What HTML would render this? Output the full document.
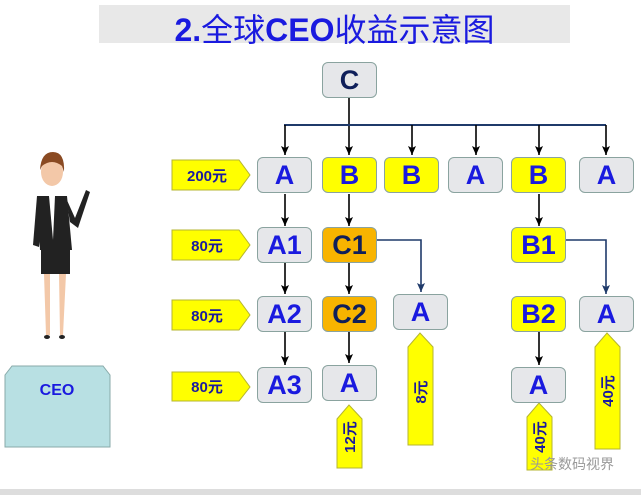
<!DOCTYPE html>
<html><head><meta charset="utf-8"><style>
body{margin:0;width:641px;height:495px;background:#fff;position:relative;overflow:hidden;font-family:"Liberation Sans","Noto Sans CJK SC",sans-serif}
.n{position:absolute;box-sizing:border-box;border:1.5px solid #8aa39f;border-radius:6px;background:#e6e7ea;color:#1a1adf;font-weight:bold;font-size:27px;display:flex;align-items:center;justify-content:center;width:55px;height:36px}
.y{background:#ffff00}.o{background:#f8b400;color:#0f1f5a}
</style></head><body>
<div style="position:absolute;left:99px;top:5px;width:471px;height:38px;background:#e8e8e8"></div>
<div style="position:absolute;left:99px;top:5px;width:471px;text-align:center;font-size:32px;font-weight:bold;color:#1a1adf;font-family:'Liberation Sans','Noto Sans CJK SC',sans-serif">2.<span style="font-weight:normal">全球</span>CEO<span style="font-weight:normal">收益示意图</span></div>
<div style="position:absolute;left:0;top:489px;width:641px;height:6px;background:#ddd"></div>

<svg style="position:absolute;left:0;top:0" width="641" height="495">
<defs><marker id="a" markerWidth="10" markerHeight="10" refX="9" refY="5" orient="auto" markerUnits="userSpaceOnUse"><path d="M0,1 L9,5 L0,9 L2,5Z" fill="#000"/></marker>
<marker id="b" markerWidth="10" markerHeight="10" refX="9" refY="5" orient="auto" markerUnits="userSpaceOnUse"><path d="M0,1 L9,5 L0,9 L2,5Z" fill="#1f3a6a"/></marker></defs>
<g stroke="#000" stroke-width="1.6" fill="none">
<line x1="349" y1="97" x2="349" y2="155" marker-end="url(#a)"/>
<line x1="284" y1="125" x2="606" y2="125" stroke="#1f3a6a" stroke-width="2"/>
<line x1="285" y1="125" x2="285" y2="155" marker-end="url(#a)"/>
<line x1="412" y1="125" x2="412" y2="155" marker-end="url(#a)"/>
<line x1="476" y1="125" x2="476" y2="155" marker-end="url(#a)"/>
<line x1="539" y1="125" x2="539" y2="155" marker-end="url(#a)"/>
<line x1="606" y1="125" x2="606" y2="155" marker-end="url(#a)"/>
<line x1="285" y1="194" x2="285" y2="226" marker-end="url(#a)"/>
<line x1="349" y1="194" x2="349" y2="226" marker-end="url(#a)"/>
<line x1="539" y1="194" x2="539" y2="226" marker-end="url(#a)"/>
<line x1="285" y1="263" x2="285" y2="294" marker-end="url(#a)"/>
<line x1="349" y1="263" x2="349" y2="294" marker-end="url(#a)"/>
<line x1="285" y1="331" x2="285" y2="365" marker-end="url(#a)"/>
<line x1="349" y1="331" x2="349" y2="363" marker-end="url(#a)"/>
<line x1="539" y1="331" x2="539" y2="365" marker-end="url(#a)"/>
<polyline points="377,240 421,240 421,292" stroke="#1f3a6a" marker-end="url(#b)"/>
<polyline points="566,240 606,240 606,294" stroke="#1f3a6a" marker-end="url(#b)"/>
</g>
<g fill="#ffff00" stroke="#b5b530" stroke-width="1">
<polygon points="172,160 239,160 250,175 239,190 172,190"/>
<polygon points="172,230 239,230 250,245 239,260 172,260"/>
<polygon points="172,300 239,300 250,315 239,330 172,330"/>
<polygon points="172,372 239,372 250,387 239,401 172,401"/>
<polygon points="337,419 349,405 362,419 362,468 337,468"/>
<polygon points="408,347 420,333 433,347 433,445 408,445"/>
<polygon points="527,417 539,403 552,417 552,470 527,470"/>
<polygon points="595,347 607,333 620,347 620,449 595,449"/>
</g>
<polygon points="5,375 12,366 103,366 110,375 110,447 5,447" fill="#b8e0e3" stroke="#8aa"/>
<text x="57" y="395" text-anchor="middle" font-size="16" font-weight="bold" fill="#1a1adf" font-family="Liberation Sans">CEO</text>
<g font-family="Liberation Sans,Noto Sans CJK SC,sans-serif" font-size="15" font-weight="bold" fill="#1a1aa0" text-anchor="middle">
<text x="207" y="181">200元</text><text x="207" y="251">80元</text><text x="207" y="321">80元</text><text x="207" y="392">80元</text>
<text transform="translate(355,437) rotate(-90)">12元</text>
<text transform="translate(426,392) rotate(-90)">8元</text>
<text transform="translate(545,437) rotate(-90)">40元</text>
<text transform="translate(613,391) rotate(-90)">40元</text>
</g>
<g>
<ellipse cx="52" cy="172" rx="11" ry="14" fill="#f3c8a8"/>
<path d="M40,170 Q41,152 53,152 Q65,152 64,172 L62,166 Q52,158 42,166Z" fill="#8a4a22"/>
<path d="M37,196 L67,196 L72,250 L40,250 Z" fill="#222"/>
<path d="M37,196 L33,245 L39,247 L44,205Z" fill="#222"/>
<path d="M66,198 L75,218 L86,190 L90,192 L78,228 L70,222Z" fill="#222"/>
<path d="M49,196 L55,196 L53,240 Z" fill="#fff"/>
<rect x="41" y="248" width="29" height="26" fill="#222"/>
<path d="M44,274 L50,274 L50,335 L46,335Z M59,274 L66,274 L63,335 L60,335Z" fill="#f3c8a8"/>
<ellipse cx="47" cy="337" rx="3" ry="2" fill="#222"/><ellipse cx="62" cy="337" rx="3" ry="2" fill="#222"/>
</g>
<text x="572" y="469" text-anchor="middle" font-size="14" fill="#999" font-family="Noto Sans CJK SC,sans-serif">头条数码视界</text>
</svg>

<div class="n" style="left:322px;top:62px;color:#0f1f5a">C</div>
<div class="n" style="left:257px;top:157px">A</div>
<div class="n y" style="left:322px;top:157px">B</div>
<div class="n y" style="left:384px;top:157px">B</div>
<div class="n" style="left:448px;top:157px">A</div>
<div class="n y" style="left:511px;top:157px">B</div>
<div class="n" style="left:579px;top:157px">A</div>
<div class="n" style="left:257px;top:227px">A1</div>
<div class="n o" style="left:322px;top:227px">C1</div>
<div class="n y" style="left:511px;top:227px">B1</div>
<div class="n" style="left:257px;top:296px">A2</div>
<div class="n o" style="left:322px;top:296px">C2</div>
<div class="n" style="left:393px;top:294px">A</div>
<div class="n y" style="left:511px;top:296px">B2</div>
<div class="n" style="left:579px;top:296px">A</div>
<div class="n" style="left:257px;top:367px">A3</div>
<div class="n" style="left:322px;top:365px">A</div>
<div class="n" style="left:511px;top:367px">A</div>
</body></html>
